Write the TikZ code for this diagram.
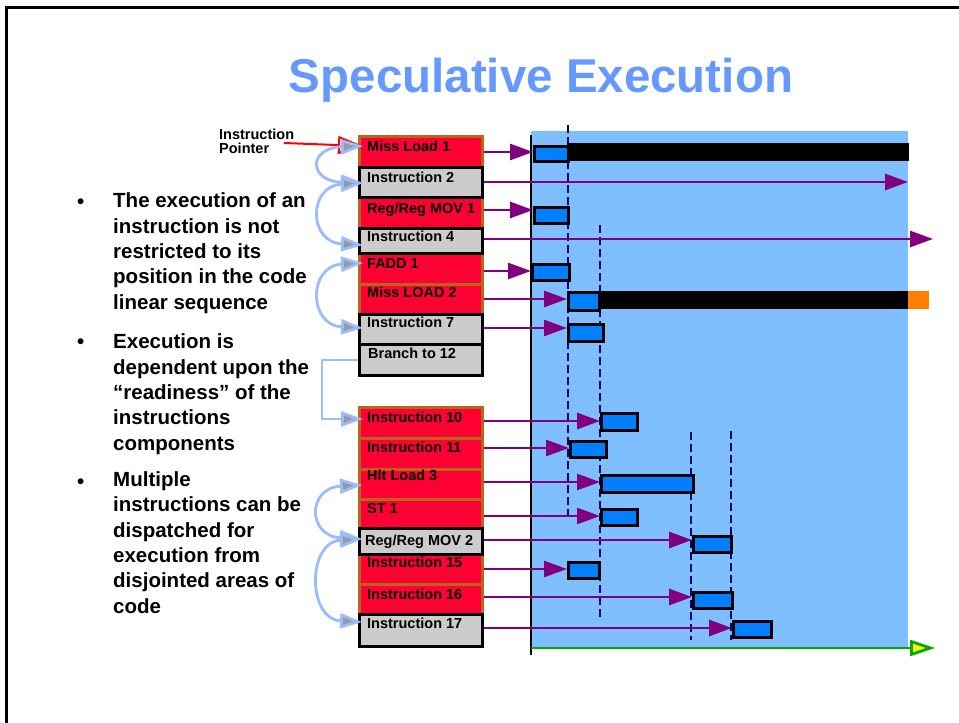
\documentclass[tikz,border=0pt]{standalone}
\usepackage{fontspec}
\setmainfont{Liberation Sans}
\usetikzlibrary{arrows.meta,calc}

\definecolor{titleblue}{HTML}{6699FF}
\definecolor{instred}{HTML}{FF0033}
\definecolor{instbrown}{HTML}{B8661A}
\definecolor{instgray}{HTML}{CCCCCC}
\definecolor{panelblue}{HTML}{80BFFF}
\definecolor{barblue}{HTML}{0080FF}
\definecolor{flowpurple}{HTML}{800080}
\definecolor{slotnavy}{HTML}{000080}
\definecolor{seqblue}{HTML}{99BBFF}
\definecolor{headgray}{HTML}{999999}
\definecolor{timegreen}{HTML}{00AA00}
\definecolor{missorange}{HTML}{FF8000}

% one instruction slot of the code listing: box plus its label
\newcommand\instrow[7]{%
  \node[#2, minimum height=#4pt] (#1) at (358,#3) {};
  \node[instlabel] (#1t) at ([xshift=#7pt,yshift=-#6pt]#1.north west) {#5};
}
% one execution bar on the time line
\newcommand\execbar[6]{%
  \node[#6, minimum width=#4pt, minimum height=#5pt] (#1) at (#2,#3) {};
}

\begin{document}
\begin{tikzpicture}[x=1pt,y=-1pt,
  instbase/.style={rectangle, inner sep=0pt, minimum width=123pt, anchor=north west, line width=2.8pt},
  redinst/.style={instbase, draw=instbrown, fill=instred},
  grayinst/.style={instbase, draw=black, fill=instgray},
  instlabel/.style={anchor=base west, inner sep=0pt, font=\fontsize{14.5}{16}\selectfont\bfseries},
  bluebar/.style={rectangle, inner sep=0pt, anchor=north west, fill=barblue, draw=black, line width=2.8pt},
  blackbar/.style={rectangle, inner sep=0pt, anchor=north west, fill=black},
  orangebar/.style={rectangle, inner sep=0pt, anchor=north west, fill=missorange},
  flow/.style={draw=flowpurple, line width=2.8pt, -{Triangle[length=23pt,width=16pt]}},
  slot/.style={draw=slotnavy, line width=2.8pt, dash pattern=on 8pt off 4pt},
  seqhead/.tip={Triangle[length=22pt,width=15pt,fill=headgray]},
  seqloop/.style={draw=seqblue, line width=2.8pt, seqhead-seqhead},
  seqlink/.style={draw=seqblue, line width=2.8pt, -seqhead},
  bullettext/.style={anchor=base west, inner sep=0pt, align=left, font=\fontsize{20.5}{25.3}\selectfont\bfseries},
  bulletmark/.style={anchor=base west, inner sep=0pt, font=\fontsize{20.5}{25.3}\selectfont\bfseries}
]
\useasboundingbox (0,0) rectangle (959,723);

% slide frame
\draw[line width=3pt] (6,723) -- (6,7) -- (959,7);

% title
\node[anchor=base, inner sep=0pt, text=titleblue, font=\fontsize{47.5}{50}\selectfont\bfseries] (title) at (541,92) {Speculative Execution};

% bullet list (each paragraph is placed by the baseline of its last line)
\node[bulletmark] (m1) at (77,208) {•};
\node[bullettext] (p1) at (113,309) {The execution of an\\instruction is not\\restricted to its\\position in the code\\linear sequence};
\node[bulletmark] (m2) at (77,348) {•};
\node[bullettext] (p2) at (113,450) {Execution is\\dependent upon the\\“readiness” of the\\instructions\\components};
\node[bulletmark] (m3) at (77,488) {•};
\node[bullettext] (p3) at (113,613) {Multiple\\instructions can be\\dispatched for\\execution from\\disjointed areas of\\code};

% execution time panel
\fill[panelblue] (531,131) rectangle (908,648);
\draw[slot] (568,125) -- (568,520);
\draw[slot] (600,225) -- (600,620);
\draw[slot] (691,432) -- (691,640);
\draw[slot] (731,431) -- (731,640);
\draw[line width=2.8pt] (531,135) -- (531,655);
\coordinate (t0) at (531,648);
\coordinate (t1) at (935,648);
\draw[draw=timegreen, line width=2.8pt, -{Triangle[length=25pt,width=16pt,fill=yellow]}] (t0) -- (t1);

% code listing (red: dispatched, gray: waiting)
\instrow{b1}{redinst}{135}{31}{Miss Load 1}{16}{9}
\instrow{b3}{redinst}{196}{31}{Reg/Reg MOV 1}{17}{9}
\instrow{b5}{redinst}{252}{31}{FADD 1}{16}{9}
\instrow{b6}{redinst}{283}{30}{Miss LOAD 2}{14}{9}
\instrow{b10}{redinst}{406}{31}{Instruction 10}{16}{9}
\instrow{b11}{redinst}{437}{31}{Instruction 11}{15}{9}
\instrow{b12}{redinst}{468}{30}{Hlt Load 3}{12}{9}
\instrow{b13}{redinst}{498}{29}{ST 1}{15}{9}
\instrow{b15}{redinst}{553}{30}{Instruction 15}{14}{9}
\instrow{b16}{redinst}{583}{30}{Instruction 16}{16}{9}
\instrow{b2}{grayinst}{166}{30}{Instruction 2}{16}{9}
\instrow{b4}{grayinst}{227}{25}{Instruction 4}{14}{9}
\instrow{b7}{grayinst}{313}{30}{Instruction 7}{14}{9}
\instrow{b8}{grayinst}{343}{31}{Branch to 12}{15}{10}
\instrow{b14}{grayinst}{527}{26}{Reg/Reg MOV 2}{18}{7}
\instrow{b17}{grayinst}{613}{32}{Instruction 17}{15}{9}

% execution bars
\execbar{k1}{567}{143}{342}{18}{blackbar}
\execbar{x1}{533}{145}{34}{15}{bluebar}
\execbar{x3}{533}{206}{34}{16}{bluebar}
\execbar{x5}{531}{263}{37}{16}{bluebar}
\execbar{k6}{598}{291}{310}{18}{blackbar}
\execbar{o6}{908}{291}{21}{18}{orangebar}
\execbar{x6}{567}{291}{31}{18}{bluebar}
\execbar{x7}{567}{323}{35}{17}{bluebar}
\execbar{x10}{600}{412}{36}{17}{bluebar}
\execbar{x11}{569}{440}{36}{16}{bluebar}
\execbar{x12}{600}{474}{92}{17}{bluebar}
\execbar{x13}{600}{508}{36}{16}{bluebar}
\execbar{x14}{692}{535}{38}{16}{bluebar}
\execbar{x15}{567}{561}{31}{16}{bluebar}
\execbar{x16}{692}{591}{39}{16}{bluebar}
\execbar{x17}{732}{620}{38}{16}{bluebar}

% dispatch arrows
\coordinate (e2) at (908,182);
\coordinate (e4) at (933,239);
\draw[flow] (b1.east |- 0,152) -- (x1.west |- 0,152);
\draw[flow] (b2.east |- e2) -- (e2);
\draw[flow] (b3.east |- 0,210) -- (x3.west |- 0,210);
\draw[flow] (b4.east |- e4) -- (e4);
\draw[flow] (b5.east |- 0,271) -- (x5.west |- 0,271);
\draw[flow] (b6.east |- 0,299) -- (x6.west |- 0,299);
\draw[flow] (b7.east |- 0,328) -- (x7.west |- 0,328);
\draw[flow] (b10.east |- 0,421) -- (x10.west |- 0,421);
\draw[flow] (b11.east |- 0,448) -- (x11.west |- 0,448);
\draw[flow] (b12.east |- 0,482) -- (x12.west |- 0,482);
\draw[flow] (b13.east |- 0,516) -- (x13.west |- 0,516);
\draw[flow] (b14.east |- 0,540) -- (x14.west |- 0,540);
\draw[flow] (b15.east |- 0,569) -- (x15.west |- 0,569);
\draw[flow] (b16.east |- 0,597) -- (x16.west |- 0,597);
\draw[flow] (b17.east |- 0,628) -- (x17.west |- 0,628);

% instruction pointer
\node[anchor=base west, inner sep=0pt, align=left, font=\fontsize{14.5}{14}\selectfont\bfseries] (ip) at (219,153) {Instruction\\Pointer};
\coordinate (ipfrom) at (284,143);
\coordinate (in1) at (363,146);
\draw[draw=red, line width=2pt, -{Triangle[open,length=25pt,width=18pt,fill=white]}] (ipfrom) -- (in1);

% fetch order through the listing
\coordinate (in2) at (363,183);
\coordinate (in4) at (363,245);
\coordinate (in5) at (363,263);
\coordinate (in7) at (363,328);
\coordinate (in10) at (363,419);
\coordinate (in12) at (362,485);
\coordinate (in14) at (362,539);
\coordinate (in17) at (362,622);
\draw[seqloop] (in1) .. controls +(-55,2) and +(-55,-2) .. (in2);
\draw[seqloop] (in2) .. controls +(-55,3) and +(-55,-3) .. (in4);
\draw[seqloop] (in5) .. controls +(-55,3) and +(-55,-3) .. (in7);
\draw[seqlink] (b8.west) -- ++(-36,0) |- (in10);
\draw[seqloop] (in12) .. controls +(-55,3) and +(-55,-3) .. (in14);
\draw[seqloop] (in14) .. controls +(-55,3) and +(-55,-3) .. (in17);
\end{tikzpicture}
\end{document}
